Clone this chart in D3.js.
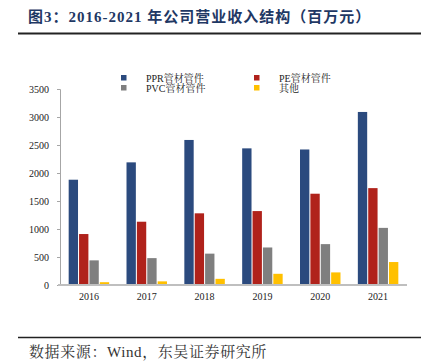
<!DOCTYPE html>
<html>
<head>
<meta charset="utf-8">
<script src="https://cdn.jsdelivr.net/npm/d3@7"></script>
<style>
  body { margin: 0; background: #fff; }
</style>
</head>
<body>
<div id="chart"></div>
<script>
const years = ["2016", "2017", "2018", "2019", "2020", "2021"];
const seriesNames = ["PPR管材管件", "PE管材管件", "PVC管材管件", "其他"];
const pprValues = [1880, 2190, 2590, 2440, 2420, 3090];
const peValues = [910, 1130, 1280, 1320, 1630, 1730];
const pvcValues = [440, 480, 560, 670, 730, 1020];
const otherValues = [50, 65, 110, 200, 225, 410];
const yTicks = [0, 500, 1000, 1500, 2000, 2500, 3000, 3500];
const colors = ["#2B4A7E", "#B0221B", "#7F7F7F", "#FFC000"];

const allValues = [pprValues, peValues, pvcValues, otherValues];
const rows = years.map((yr, i) => ({
    year: yr,
    values: seriesNames.map((s, j) => ({ name: s, value: allValues[j][i] }))
}));

const width = 429;
const height = 363;
const serif = "'Liberation Serif', 'Noto Serif CJK SC', 'Noto Sans CJK SC', serif";

const svg = d3.select("#chart").append("svg")
    .attr("width", width)
    .attr("height", height);

// Title
svg.append("text")
    .attr("x", 28)
    .attr("y", 22)
    .attr("fill", "#1F3864")
    .style("font-family", "'Liberation Serif', 'Noto Sans CJK SC', serif")
    .style("font-weight", "bold")
    .style("font-size", "15px")
    .style("letter-spacing", "1px")
    .text("图3：2016-2021 年公司营业收入结构（百万元）");

svg.append("line")
    .attr("x1", 18).attr("x2", 421)
    .attr("y1", 33.5).attr("y2", 33.5)
    .attr("stroke", "#222").attr("stroke-width", 2);

// Scales
const x0 = d3.scaleBand().domain(years).range([60, 407]).paddingInner(0.3).paddingOuter(0.15);
const x1 = d3.scaleBand().domain(seriesNames).range([0, x0.bandwidth()]).paddingInner(0.1);
const y = d3.scaleLinear().domain([0, 3500]).range([285, 89]);

// Y axis
const yAxis = svg.append("g")
    .attr("transform", "translate(60,0)")
    .call(d3.axisLeft(y).tickValues(yTicks).tickSize(3).tickPadding(8).tickFormat(d3.format("d")));
yAxis.select(".domain").attr("stroke", "#A6A6A6");
yAxis.selectAll(".tick line").attr("stroke", "#A6A6A6");
yAxis.selectAll("text")
    .style("font-family", serif)
    .style("font-size", "10px")
    .attr("fill", "#222");

// Bars
const groups = svg.selectAll("g.year")
    .data(rows)
    .enter()
    .append("g")
    .attr("class", "year")
    .attr("transform", d => `translate(${x0(d.year)},0)`);

groups.selectAll("rect")
    .data(d => d.values)
    .enter()
    .append("rect")
    .attr("x", d => x1(d.name))
    .attr("y", d => y(d.value))
    .attr("width", x1.bandwidth())
    .attr("height", d => y(0) - y(d.value))
    .attr("fill", (d, i) => colors[i]);

// X axis
const xAxis = svg.append("g")
    .attr("transform", "translate(0,285)")
    .call(d3.axisBottom(x0).tickSize(0).tickPadding(8));
xAxis.select(".domain").attr("stroke", "#BFBFBF").attr("stroke-width", 2)
    .attr("d", "M58,0H407");
xAxis.selectAll("text")
    .style("font-family", serif)
    .style("font-size", "10px")
    .attr("fill", "#222");

// Legend
const legendPos = [[121, 78], [254, 78], [121, 88], [254, 88]];
const legend = svg.selectAll("g.legend")
    .data(seriesNames)
    .enter()
    .append("g")
    .attr("class", "legend")
    .attr("transform", (d, i) => `translate(${legendPos[i][0]},${legendPos[i][1]})`);

legend.append("rect")
    .attr("x", 0).attr("y", -3)
    .attr("width", 5.5).attr("height", 5.5)
    .attr("fill", (d, i) => colors[i]);

legend.append("text")
    .attr("x", 25)
    .attr("y", 3.5)
    .style("font-family", serif)
    .style("font-size", "10px")
    .attr("fill", "#222")
    .text(d => d);

// Source
svg.append("line")
    .attr("x1", 18).attr("x2", 421)
    .attr("y1", 337.5).attr("y2", 337.5)
    .attr("stroke", "#222").attr("stroke-width", 1.5);

svg.append("text")
    .attr("x", 29)
    .attr("y", 357)
    .attr("fill", "#333")
    .style("font-family", serif)
    .style("font-size", "15px")
    .style("letter-spacing", "0.6px")
    .text("数据来源：Wind，东吴证券研究所");
</script>
</body>
</html>
